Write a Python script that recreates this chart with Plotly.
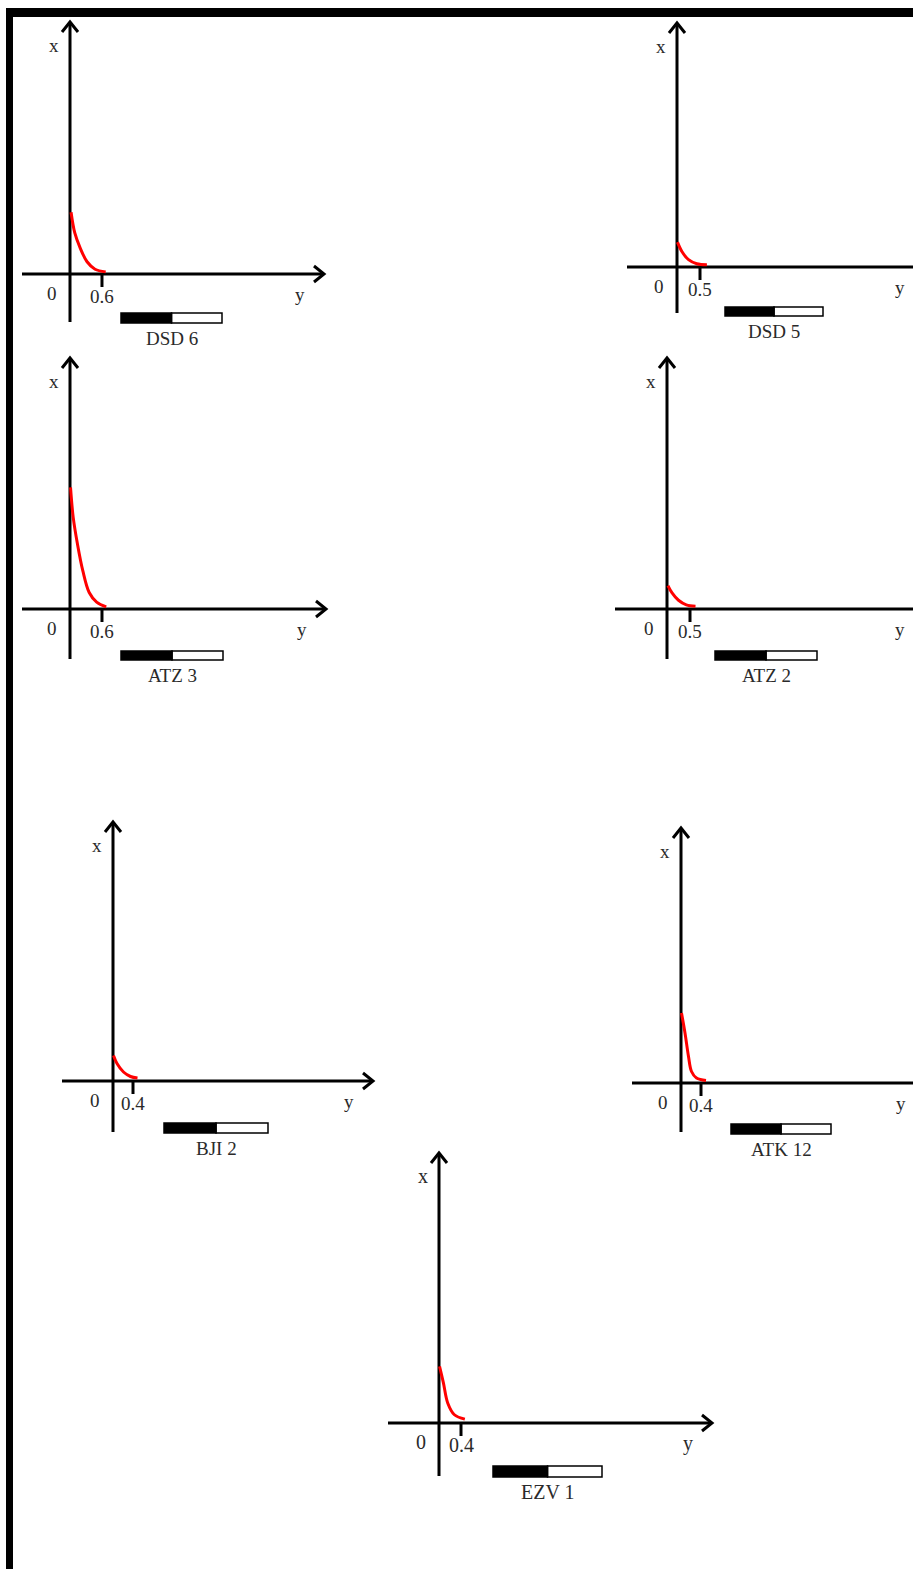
import plotly.graph_objects as go

W, H = 913, 1569

# ---------------- data ----------------
panel_names = ["DSD 6", "DSD 5", "ATZ 3", "ATZ 2", "BJI 2", "ATK 12", "EZV 1"]
tick_values = [0.6, 0.5, 0.6, 0.5, 0.4, 0.4, 0.4]
tick_labels = ["0.6", "0.5", "0.6", "0.5", "0.4", "0.4", "0.4"]

# horizontal ("y") and vertical ("x") values of each red curve
dsd6_y = [0.02, 0.09, 0.19, 0.32, 0.47, 0.67]
dsd6_x = [1.16, 0.77, 0.49, 0.23, 0.09, 0.04]
dsd5_y = [0.01, 0.11, 0.25, 0.43, 0.65]
dsd5_x = [0.54, 0.33, 0.16, 0.07, 0.05]
atz3_y = [0.01, 0.06, 0.14, 0.24, 0.36, 0.50, 0.68]
atz3_x = [2.28, 1.72, 1.22, 0.72, 0.31, 0.13, 0.04]
atz2_y = [0.02, 0.11, 0.25, 0.42, 0.62]
atz2_x = [0.51, 0.35, 0.19, 0.09, 0.06]
bji2_y = [0.01, 0.08, 0.21, 0.35, 0.49]
bji2_x = [0.51, 0.35, 0.18, 0.09, 0.06]
atk12_y = [0.01, 0.08, 0.15, 0.21, 0.31, 0.50]
atk12_x = [1.40, 1.00, 0.53, 0.23, 0.10, 0.05]
ezv1_y = [0.01, 0.08, 0.16, 0.28, 0.47]
ezv1_x = [1.03, 0.73, 0.36, 0.15, 0.07]

curves_y = [dsd6_y, dsd5_y, atz3_y, atz2_y, bji2_y, atk12_y, ezv1_y]
curves_x = [dsd6_x, dsd5_x, atz3_x, atz2_x, bji2_x, atk12_x, ezv1_x]

# ---------------- layout of panels (pixels) ----------------
# origin (ox, oy), px per unit, axis extents L, R, T, B
panels = [
    dict(ox=70,  oy=274,  s=53.3, L=22,  R=324, T=22,   B=322,  bo=51, bw=101, bt=39, bh=10),
    dict(ox=677, oy=267,  s=46.0, L=627, R=924, T=23,   B=313,  bo=48, bw=98,  bt=40, bh=9),
    dict(ox=70,  oy=609,  s=53.3, L=22,  R=326, T=358,  B=659,  bo=51, bw=102, bt=42, bh=9),
    dict(ox=667, oy=609,  s=46.0, L=615, R=924, T=358,  B=659,  bo=48, bw=102, bt=42, bh=9),
    dict(ox=113, oy=1081, s=50.0, L=62,  R=373, T=822,  B=1132, bo=51, bw=104, bt=42, bh=10),
    dict(ox=681, oy=1083, s=50.0, L=632, R=925, T=828,  B=1132, bo=50, bw=100, bt=41, bh=10),
    dict(ox=439, oy=1423, s=55.0, L=388, R=712, T=1153, B=1476, bo=54, bw=109, bt=43, bh=11),
]

FONT = "Liberation Serif, Times New Roman, serif"
TXT = "#2a2a2a"
LW = 3

fig = go.Figure()
shapes = []
annotations = []
layout_axes = {}

for i, p in enumerate(panels):
    k = i + 1
    xa = "x" if k == 1 else f"x{k}"
    ya = "y" if k == 1 else f"y{k}"
    s = p["s"]
    ox, oy = p["ox"], p["oy"]
    # domain in px (padded)
    dl = max(0, p["L"] - 12)
    dr = min(W, p["R"] + 12)
    dt = max(0, p["T"] - 12)
    db = min(H, p["B"] + 40)
    xr = [(dl - ox) / s, (dr - ox) / s]
    yr = [(oy - db) / s, (oy - dt) / s]
    axkey = "xaxis" if k == 1 else f"xaxis{k}"
    aykey = "yaxis" if k == 1 else f"yaxis{k}"
    layout_axes[axkey] = dict(domain=[dl / W, dr / W], range=xr, visible=False,
                              anchor=ya, fixedrange=True)
    layout_axes[aykey] = dict(domain=[1 - db / H, 1 - dt / H], range=yr, visible=False,
                              anchor=xa, fixedrange=True)

    # axis lines
    hx0, hx1 = (p["L"] - ox) / s, (p["R"] - ox) / s
    vy0, vy1 = (oy - p["B"]) / s, (oy - p["T"]) / s
    a, b = 10 / s, 8 / s
    line = dict(color="black", width=LW)
    fig.add_trace(go.Scatter(x=[hx0, hx1], y=[0, 0], mode="lines", line=line,
                             xaxis=xa, yaxis=ya, hoverinfo="skip", showlegend=False))
    fig.add_trace(go.Scatter(x=[0, 0], y=[vy0, vy1], mode="lines", line=line,
                             xaxis=xa, yaxis=ya, hoverinfo="skip", showlegend=False))
    # arrow heads (open chevrons)
    fig.add_trace(go.Scatter(x=[hx1 - a, hx1, hx1 - a], y=[b, 0, -b], mode="lines", line=line,
                             xaxis=xa, yaxis=ya, hoverinfo="skip", showlegend=False))
    fig.add_trace(go.Scatter(x=[-b, 0, b], y=[vy1 - a, vy1, vy1 - a], mode="lines", line=line,
                             xaxis=xa, yaxis=ya, hoverinfo="skip", showlegend=False))
    # tick
    tv = tick_values[i]
    fig.add_trace(go.Scatter(x=[tv, tv], y=[0, -13 / s], mode="lines", line=line,
                             xaxis=xa, yaxis=ya, hoverinfo="skip", showlegend=False))
    # red curve
    fig.add_trace(go.Scatter(x=curves_y[i], y=curves_x[i], mode="lines",
                             line=dict(color="#ff0000", width=3, shape="spline", smoothing=1.0),
                             xaxis=xa, yaxis=ya, name=panel_names[i], showlegend=False))

    # scale bar
    bx0 = p["bo"] / s
    bx1 = (p["bo"] + p["bw"]) / s
    bxm = (bx0 + bx1) / 2
    by0 = -p["bt"] / s
    by1 = -(p["bt"] + p["bh"]) / s
    shapes.append(dict(type="rect", xref=xa, yref=ya, x0=bxm, x1=bx1, y0=by1, y1=by0,
                       fillcolor="white", line=dict(color="black", width=1.5)))
    shapes.append(dict(type="rect", xref=xa, yref=ya, x0=bx0, x1=bxm, y0=by1, y1=by0,
                       fillcolor="black", line=dict(color="black", width=1.5)))

    fs = 19 if k < 7 else 20
    f = dict(family=FONT, size=fs, color=TXT)
    # texts
    annotations += [
        dict(x=-16 / s, y=vy1 - 23 / s, text="x", xref=xa, yref=ya, showarrow=False, font=f),
        dict(x=-18 / s, y=-19 / s, text="0", xref=xa, yref=ya, showarrow=False, font=f),
        dict(x=tv, y=-22 / s, text=tick_labels[i], xref=xa, yref=ya, showarrow=False, font=f),
        dict(x=hx1 - 24 / s, y=-20 / s, text="y", xref=xa, yref=ya, showarrow=False, font=f),
        dict(x=bxm, y=by1 - 15 / s, text=panel_names[i], xref=xa, yref=ya, showarrow=False, font=f),
    ]

# black frame (left and top edges)
shapes.append(dict(type="rect", xref="paper", yref="paper", x0=6 / W, x1=13 / W,
                   y0=0, y1=1 - 8 / H, fillcolor="black", line=dict(width=0)))
shapes.append(dict(type="rect", xref="paper", yref="paper", x0=6 / W, x1=1,
                   y0=1 - 17 / H, y1=1 - 8 / H, fillcolor="black", line=dict(width=0)))

fig.update_layout(
    width=W, height=H,
    margin=dict(l=0, r=0, t=0, b=0),
    paper_bgcolor="white", plot_bgcolor="rgba(0,0,0,0)",
    showlegend=False,
    shapes=shapes,
    annotations=annotations,
    **layout_axes,
)

fig.write_html("out.html", config={"displayModeBar": False},
               post_script="document.body.style.margin='0px';document.body.style.overflow='hidden';")
